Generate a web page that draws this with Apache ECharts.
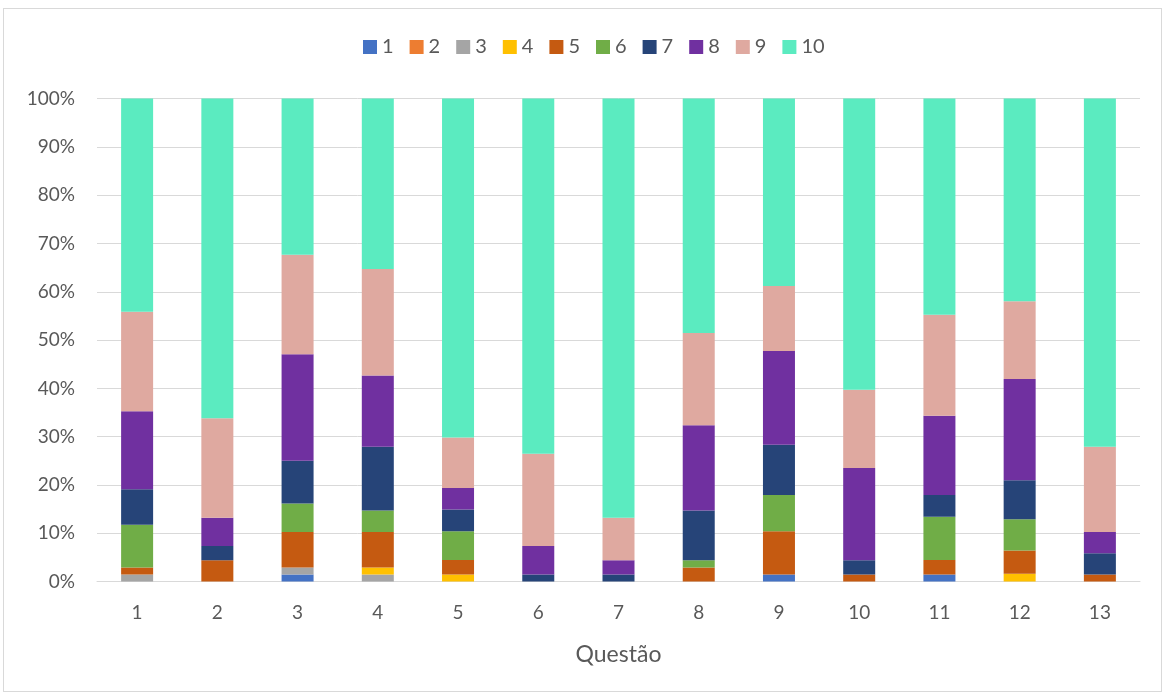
<!DOCTYPE html>
<html>
<head>
<meta charset="utf-8">
<script src="https://cdn.jsdelivr.net/npm/echarts@6/dist/echarts.min.js"></script>
<style>
  html, body { margin: 0; padding: 0; background: #fff; }
  #frame { position: absolute; left: 3px; top: 8px; width: 1157px; height: 682px; border: 1px solid #d9d9d9; }
  #chart { position: absolute; left: 0; top: 0; width: 1165px; height: 695px; }
</style>
</head>
<body>
<div id="frame"></div>
<div id="chart"></div>
<script>
// Questions on the category axis
const questions = ['1', '2', '3', '4', '5', '6', '7', '8', '9', '10', '11', '12', '13'];

// Number of answers for each score (1..10), per question
const score1  = [0, 0, 1, 0, 0, 0, 0, 0, 1, 0, 1, 0, 0];
const score2  = [0, 0, 0, 0, 0, 0, 0, 0, 0, 0, 0, 0, 0];
const score3  = [1, 0, 1, 1, 0, 0, 0, 0, 0, 0, 0, 0, 0];
const score4  = [0, 0, 0, 1, 1, 0, 0, 0, 0, 0, 0, 1, 0];
const score5  = [1, 3, 5, 5, 2, 0, 0, 2, 6, 1, 2, 3, 1];
const score6  = [6, 0, 4, 3, 4, 0, 0, 1, 5, 0, 6, 4, 0];
const score7  = [5, 2, 6, 9, 3, 1, 1, 7, 7, 2, 3, 5, 3];
const score8  = [11, 4, 15, 10, 3, 4, 2, 12, 13, 13, 11, 13, 3];
const score9  = [14, 14, 14, 15, 7, 13, 6, 13, 9, 11, 14, 10, 12];
const score10 = [30, 45, 22, 24, 47, 50, 59, 33, 26, 41, 30, 26, 49];

const seriesNames = ['1', '2', '3', '4', '5', '6', '7', '8', '9', '10'];
const seriesCounts = [score1, score2, score3, score4, score5, score6, score7, score8, score9, score10];
const seriesColors = ['#4472C4', '#ED7D31', '#A5A5A5', '#FFC000', '#C55A11',
                      '#70AD47', '#264478', '#7030A0', '#DFA9A0', '#5BEBC0'];

// Column totals, used to turn counts into shares of 100%
const totals = questions.map((_, i) => seriesCounts.reduce((s, arr) => s + arr[i], 0));

const font = 'Lato, "Open Sans", sans-serif';
const textColor = '#595959';

const chart = echarts.init(document.getElementById('chart'), null, { renderer: 'canvas' });

chart.setOption({
  animation: false,
  backgroundColor: 'transparent',
  color: seriesColors,
  legend: {
    top: 32,
    left: 358,
    icon: 'rect',
    itemWidth: 14,
    itemHeight: 14,
    itemGap: 16,
    textStyle: { color: textColor, fontSize: 20, fontFamily: font },
    data: seriesNames
  },
  grid: { left: 97, right: 25, top: 98.6, bottom: 113.4, containLabel: false },
  xAxis: {
    type: 'category',
    data: questions,
    name: 'Questão',
    nameLocation: 'middle',
    nameGap: 61,
    nameTextStyle: { color: textColor, fontSize: 23, fontFamily: font },
    axisLine: { lineStyle: { color: '#d9d9d9', width: 1 } },
    axisTick: { show: false },
    axisLabel: { color: textColor, fontSize: 19, fontFamily: font, margin: 22 }
  },
  yAxis: {
    type: 'value',
    min: 0,
    max: 100,
    interval: 10,
    axisLine: { show: false },
    axisTick: { show: false },
    axisLabel: { color: textColor, fontSize: 19, fontFamily: font, margin: 22, formatter: '{value}%' },
    splitLine: { lineStyle: { color: '#d9d9d9', width: 1 } }
  },
  series: seriesNames.map((name, k) => ({
    name: name,
    type: 'bar',
    stack: 'total',
    barWidth: 32,
    itemStyle: { color: seriesColors[k] },
    emphasis: { disabled: true },
    data: seriesCounts[k].map((v, i) => v / totals[i] * 100)
  }))
});
</script>
</body>
</html>
